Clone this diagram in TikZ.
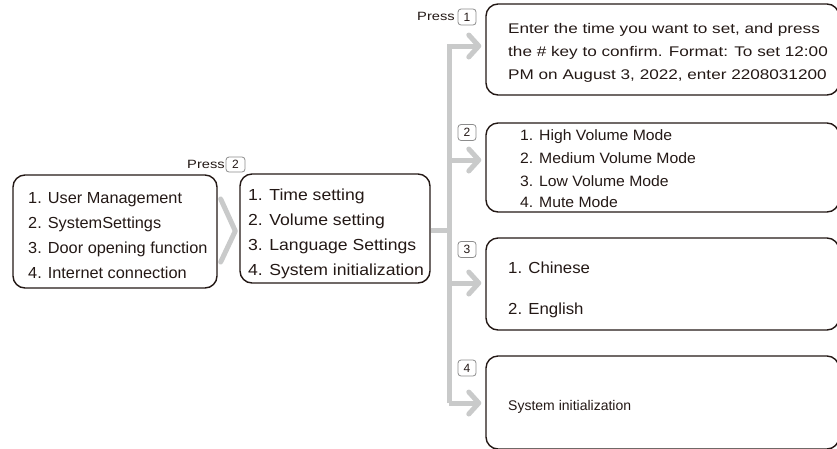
\documentclass[tikz,border=0pt]{standalone}
\usepackage{fontspec}
\setmainfont{Liberation Sans}
\newfontfamily\fA{Liberation Sans}[FakeStretch=1.02]
\newfontfamily\fB{Liberation Sans}[FakeStretch=1.1]
\newfontfamily\fC{Liberation Sans}[FakeStretch=1.225]
\newfontfamily\fD{Liberation Sans}[FakeStretch=1.05]
\usetikzlibrary{arrows.meta}
\definecolor{ink}{HTML}{231815}
\definecolor{arrowgray}{HTML}{C9CACA}
\definecolor{keygray}{HTML}{8C8C8C}
\begin{document}
\begin{tikzpicture}[x=1pt,y=-1pt,
  box/.style={draw=ink, line width=1.4pt, rounded corners=12pt, inner sep=0pt},
  key/.style={draw=keygray, line width=0.8pt, rounded corners=3pt, minimum width=18pt,
    minimum height=16pt, inner sep=0pt, text=ink, font=\fontsize{12}{12}\selectfont},
  txt/.style={anchor=base west, inner sep=0pt, text=ink},
  ta/.style={txt, font=\fA\fontsize{16}{16}\selectfont},
  tb/.style={txt, font=\fB\fontsize{16}{16}\selectfont},
  tc/.style={txt, font=\fC\fontsize{14}{14}\selectfont},
  td/.style={txt, font=\fD\fontsize{15}{15}\selectfont},
  tf/.style={txt, font=\fD\fontsize{16}{16}\selectfont},
  te/.style={txt, font=\fontsize{14}{14}\selectfont},
  presstxt/.style={anchor=base east, inner sep=0pt, text=ink, font=\fC\fontsize{12}{12}\selectfont},
  gl/.style={draw=arrowgray, line width=5pt},
  arr/.style={gl, -{Straight Barb[length=10pt,width=22pt,round]}, shorten >=4pt},
]
\useasboundingbox (0,0) rectangle (837,448);

% boxes
\node[box, minimum width=204pt, minimum height=113pt] (lb) at (115,231.5) {};
\node[box, minimum width=190pt, minimum height=109pt] (mb) at (335,228.5) {};
\node[box, minimum width=353pt, minimum height=91pt] (r1) at (662.5,49.5) {};
\node[box, minimum width=353pt, minimum height=89pt] (r2) at (662.5,167.5) {};
\node[box, minimum width=353pt, minimum height=92pt] (r3) at (662.5,284) {};
\node[box, minimum width=353pt, minimum height=93pt] (r4) at (662.5,402.5) {};

% left box text
\node[ta] (l1) at (28,203) {1. User Management};
\node[ta] (l2) at (28,228) {2. SystemSettings};
\node[ta] (l3) at (28,253) {3. Door opening function};
\node[ta] (l4) at (28,278) {4. Internet connection};

% middle box text
\node[tb] (m1) at (248,200) {1. Time setting};
\node[tb] (m2) at (248,225) {2. Volume setting};
\node[tb] (m3) at (248,250) {3. Language Settings};
\node[tb] (m4) at (248,275) {4. System initialization};

% right boxes text
\node[tc] (a1) at (508,33) {Enter the time you want to set, and press};
\node[tc] (a2) at (508,56) {the \# key to confirm. Format: To set 12:00};
\node[tc] (a3) at (508,79) {PM on August 3, 2022, enter 2208031200};

\node[td] (b1) at (520,140) {1. High Volume Mode};
\node[td] (b2) at (520,163) {2. Medium Volume Mode};
\node[td] (b3) at (520,186) {3. Low Volume Mode};
\node[td] (b4) at (520,207) {4. Mute Mode};

\node[tf] (c1) at (508,273) {1. Chinese};
\node[tf] (c2) at (508,314) {2. English};

\node[te] (d1) at (508,410) {System initialization};

% press labels and keys
\node[presstxt] (p2) at (225,168) {Press};
\node[key, minimum width=19pt, minimum height=15pt] (k0) at (235.5,164.5) {2};
\node[presstxt] (p1) at (455,20) {Press};
\node[key] (k1) at (467,17) {1};
\node[key] (k2) at (467,132.5) {2};
\node[key] (k3) at (467,249.5) {3};
\node[key] (k4) at (467,368) {4};

% chevron between left and middle boxes
\draw[gl, line cap=round, line join=round] ([xshift=3pt]lb.east |- 0,199) -- ([xshift=-4pt]mb.west |- 0,231) -- ([xshift=3pt]lb.east |- 0,262);

% trunk and branches
\coordinate (j1) at (449,46);
\coordinate (j2) at (449,160);
\coordinate (j3) at (449,283);
\coordinate (j4) at (449,403);
\draw[gl] (mb.east |- 0,230) -- (j1 |- 0,230);
\draw[arr, line join=miter] (j4) -- (j1) -- (r1.west |- j1);
\draw[arr] (j2) -- (r2.west |- j2);
\draw[arr] (j3) -- (r3.west |- j3);
\draw[arr] (j4) -- (r4.west |- j4);
\end{tikzpicture}
\end{document}
